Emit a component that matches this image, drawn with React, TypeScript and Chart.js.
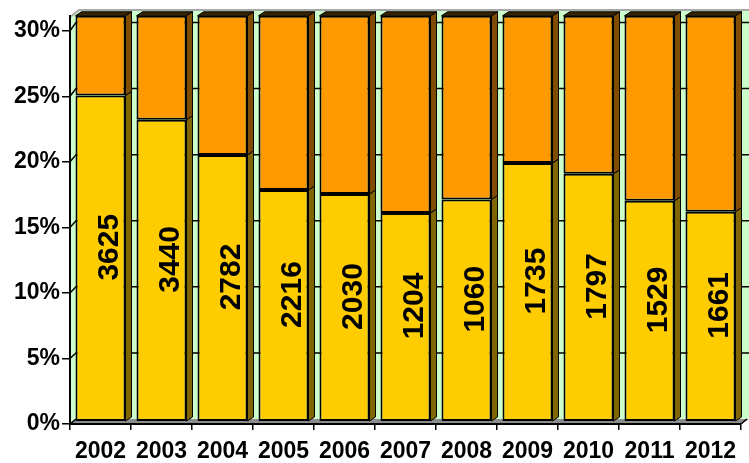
import React, { useEffect, useRef } from "react";
import { Chart, registerables } from "chart.js";

Chart.register(...registerables);

const years = ["2002", "2003", "2004", "2005", "2006", "2007", "2008", "2009", "2010", "2011", "2012"];
const counts = [3625, 3440, 2782, 2216, 2030, 1204, 1060, 1735, 1797, 1529, 1661];
const sharePct = [24.1, 22.3, 19.7, 17.1, 16.8, 15.4, 16.4, 19.1, 18.3, 16.3, 15.5];
const restPct = [5.9, 7.7, 10.3, 12.9, 13.2, 14.6, 13.6, 10.9, 11.7, 13.7, 14.5];
const yTicks = [0, 5, 10, 15, 20, 25, 30];

const FONT = "'Liberation Sans', Arial, Helvetica, sans-serif";
const DX = 6;
const DY = 4;

const wallPlugin = {
  id: "wall3d",
  beforeDraw(chart: any) {
    const ctx = chart.ctx;
    const a = chart.chartArea;
    const ys = chart.scales.y;
    const left = a.left;
    const bottom = ys.getPixelForValue(0);
    const wallL = left + DX;
    const wallB = bottom - DY - 1;
    const wallT = 11;
    const W = chart.width;
    const wallScale = (v: number) => wallB - (v / 30) * (wallB - 22.5);
    ctx.save();
    // back wall
    ctx.fillStyle = "#CCFFCC";
    ctx.fillRect(wallL, wallT, W - wallL, wallB - wallT);
    // side wall
    ctx.beginPath();
    ctx.moveTo(left, wallT + 6);
    ctx.lineTo(wallL, wallT);
    ctx.lineTo(wallL, wallB);
    ctx.lineTo(left, bottom);
    ctx.closePath();
    ctx.fill();
    // top gray edge
    ctx.strokeStyle = "#A8A8A8";
    ctx.lineWidth = 2;
    ctx.beginPath();
    ctx.moveTo(left, wallT + 6);
    ctx.lineTo(wallL + 3, wallT - 1);
    ctx.lineTo(W, wallT - 1);
    ctx.stroke();
    // floor
    ctx.fillStyle = "#8C8C8C";
    ctx.beginPath();
    ctx.moveTo(left, bottom);
    ctx.lineTo(wallL, wallB);
    ctx.lineTo(W, wallB);
    ctx.lineTo(a.right, bottom);
    ctx.closePath();
    ctx.fill();
    // wall gridlines + connectors
    ctx.strokeStyle = "#000";
    ctx.lineWidth = 1.5;
    yTicks.forEach((v) => {
      const wy = wallScale(v);
      const ty = ys.getPixelForValue(v);
      ctx.beginPath();
      ctx.moveTo(left, ty);
      ctx.lineTo(wallL, wy);
      if (v > 0) ctx.lineTo(W, wy);
      ctx.stroke();
    });
    // right floor edge
    ctx.beginPath();
    ctx.moveTo(a.right, bottom);
    ctx.lineTo(a.right + DX, bottom - DY - 1);
    ctx.stroke();
    ctx.restore();
  },
  afterDatasetsDraw(chart: any) {
    const ctx = chart.ctx;
    const sideColors = ["#7F6600", "#7F4C00"];
    ctx.save();
    ctx.strokeStyle = "#000";
    ctx.lineWidth = 1;
    chart.data.datasets.forEach((ds: any, di: number) => {
      const meta = chart.getDatasetMeta(di);
      meta.data.forEach((el: any) => {
        const p = el.getProps(["x", "y", "base", "width"], true);
        const r = p.x + p.width / 2;
        const l = p.x - p.width / 2;
        const top = Math.min(p.y, p.base);
        const bot = Math.max(p.y, p.base);
        ctx.fillStyle = sideColors[di];
        ctx.beginPath();
        ctx.moveTo(r, top);
        ctx.lineTo(r + DX, top - DY);
        ctx.lineTo(r + DX, bot - DY);
        ctx.lineTo(r, bot);
        ctx.closePath();
        ctx.fill();
        ctx.stroke();
        if (di === chart.data.datasets.length - 1) {
          ctx.fillStyle = "#3A2300";
          ctx.beginPath();
          ctx.moveTo(l, top);
          ctx.lineTo(l + DX, top - DY);
          ctx.lineTo(r + DX, top - DY);
          ctx.lineTo(r, top);
          ctx.closePath();
          ctx.fill();
          ctx.stroke();
        }
      });
    });
    // labels
    const meta0 = chart.getDatasetMeta(0);
    ctx.fillStyle = "#000";
    ctx.font = `bold 30px ${FONT}`;
    ctx.textAlign = "center";
    ctx.textBaseline = "middle";
    meta0.data.forEach((el: any, i: number) => {
      const p = el.getProps(["x", "y", "base"], true);
      const cx = p.x + 9;
      const cy = (p.y + p.base) / 2 - 11;
      ctx.save();
      ctx.translate(cx, cy);
      ctx.rotate(-Math.PI / 2);
      ctx.fillText(String(counts[i]), 0, 0);
      ctx.restore();
    });
    ctx.restore();
  },
};

export default function App() {
  const ref = useRef<HTMLCanvasElement | null>(null);
  useEffect(() => {
    if (!ref.current) return;
    const chart = new Chart(ref.current, {
      type: "bar",
      data: {
        labels: years,
        datasets: [
          {
            label: "share",
            data: sharePct,
            backgroundColor: "#FFCC00",
            borderColor: "#000",
            borderWidth: 2,
            borderSkipped: false,
            yAxisID: "yb",
            stack: "s",
            barPercentage: 0.82,
            categoryPercentage: 1,
          },
          {
            label: "rest",
            data: restPct,
            backgroundColor: "#FF9900",
            borderColor: "#000",
            borderWidth: 2,
            borderSkipped: false,
            yAxisID: "yb",
            stack: "s",
            barPercentage: 0.82,
            categoryPercentage: 1,
          },
        ],
      },
      options: {
        responsive: false,
        animation: false,
        devicePixelRatio: 1,
        layout: { padding: { top: 15, right: 8, left: 0, bottom: 0 } },
        plugins: { legend: { display: false }, tooltip: { enabled: false } },
        scales: {
          x: {
            stacked: true,
            offset: true,
            grid: { display: true, drawOnChartArea: false, drawTicks: true, tickLength: 6, color: "#000", lineWidth: 1.5, offset: true },
            border: { display: true, color: "#000", width: 2 },
            ticks: { font: { family: FONT, size: 23, weight: "bold" }, color: "#000", padding: 8, maxRotation: 0, autoSkip: false },
            afterFit: (s: any) => { s.height = 39; },
          },
          y: {
            position: "left",
            min: 0,
            max: 31.142,
            afterBuildTicks: (s: any) => { s.ticks = yTicks.map((v) => ({ value: v })); },
            ticks: { callback: (v: any) => v + "%", font: { family: FONT, size: 23, weight: "bold" }, color: "#000", padding: 2 },
            grid: { drawOnChartArea: false, tickLength: 8, color: "#000", lineWidth: 1.5 },
            border: { display: true, color: "#000", width: 2 },
            afterFit: (s: any) => { s.width = 70; },
          },
          yb: { display: false, stacked: true, min: -0.2217, max: 30, position: "left" },
        },
      } as any,
      plugins: [wallPlugin],
    });
    return () => chart.destroy();
  }, []);
  return (
    <div style={{ position: "fixed", left: 0, top: 0, width: 749, height: 463, background: "#fff" }}>
      <canvas ref={ref} width={749} height={463} />
    </div>
  );
}
